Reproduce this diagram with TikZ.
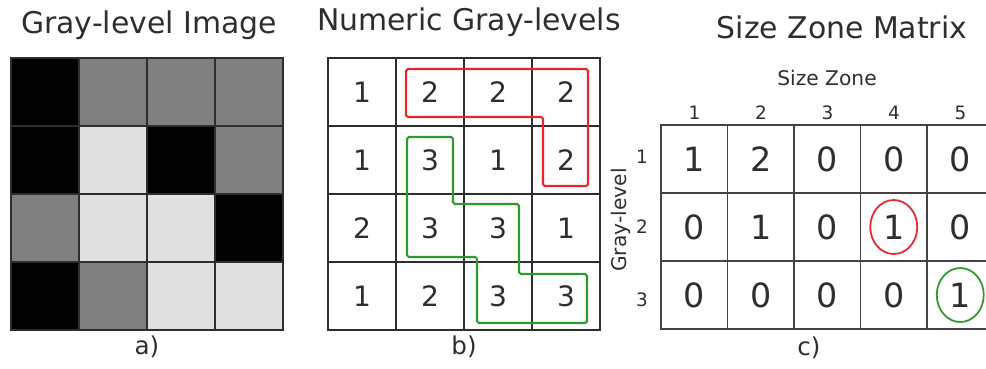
\documentclass[tikz,border=0pt]{standalone}
\usepackage{fontspec}
\setmainfont{DejaVu Sans}
\usepackage{xcolor}
\usetikzlibrary{shapes.geometric}

\definecolor{gl1}{HTML}{000000}
\definecolor{gl2}{HTML}{808080}
\definecolor{gl3}{HTML}{E0E0E0}
\definecolor{ink}{HTML}{2E2E2E}
\definecolor{zonered}{HTML}{E8262B}
\definecolor{zonegreen}{HTML}{2E9A2E}

\begin{document}
\begin{tikzpicture}[x=0.2mm,y=-0.2mm,
  ttl/.style={font=\fontsize{17}{19}\selectfont,text=ink},
  lbl/.style={font=\fontsize{14}{16}\selectfont,text=ink},
  pix/.style={draw=ink,line width=1.1pt,minimum size=13.6mm,inner sep=0pt},
  numb/.style={pix,font=\fontsize{16}{18}\selectfont,text=ink},
  szm/.style={draw=ink!90,line width=0.8pt,minimum width=13.3mm,
    minimum height=13.6mm,inner sep=0pt,font=\fontsize{19}{21}\selectfont,text=ink},
  hdr/.style={font=\fontsize{10.5}{12}\selectfont,text=ink},
  zone/.style={line width=1.2pt,rounded corners=1pt},
  hl/.style={ellipse,draw,line width=1pt,minimum width=9.4mm,minimum height=10.8mm}
]
\useasboundingbox (0,0) rectangle (986,368);
\clip (0,0) rectangle (986,368);

%% a) gray-level image
\node[ttl] (ta) at (149,25) {Gray-level Image};
\foreach \v [count=\k from 0] in {1,2,2,2,1,3,1,2,2,3,3,1,1,2,3,3}{
  \pgfmathtruncatemacro\r{\k/4}
  \pgfmathtruncatemacro\c{mod(\k,4)}
  \node[pix,fill=gl\v] (img-\r-\c) at ({45+68*\c},{92+68*\r}) {};
}
\node[lbl] (la) at (147,347) {a)};

%% b) numeric gray-levels
\node[ttl] (tb) at (469,22) {Numeric Gray-levels};
\foreach \v [count=\k from 0] in {1,2,2,2,1,3,1,2,2,3,3,1,1,2,3,3}{
  \pgfmathtruncatemacro\r{\k/4}
  \pgfmathtruncatemacro\c{mod(\k,4)}
  \node[numb] (num-\r-\c) at ({362+68*\c},{92+68*\r}) {\v};
}
\draw[zone,zonered] (406,69) -- (588,69) -- (588,186) -- (543,186)
  -- (543,117) -- (406,117) -- cycle;
\draw[zone,zonegreen] (407,137) -- (453,137) -- (453,204) -- (519,204)
  -- (519,274) -- (587,274) -- (587,323) -- (477,323) -- (477,257)
  -- (407,257) -- cycle;
\node[lbl] (lb) at (464,347) {b)};

%% c) size zone matrix
\node[ttl] (tc) at (842,27) {Size Zone Matrix};
\node[hdr,font=\fontsize{11.5}{13}\selectfont] (sz) at (827,78) {Size Zone};
\node[hdr,font=\fontsize{11.5}{13}\selectfont,rotate=90] (gl) at (621,220) {Gray-level};
\foreach \row [count=\r from 0] in {{1,2,0,0,0},{0,1,0,1,0},{0,0,0,0,1}}{
  \foreach \v [count=\c from 0] in \row{
    \node[szm] (m-\r-\c) at ({694.25+66.5*\c},{159+68*\r}) {\v};
  }
}
\foreach \c in {1,...,5}
  \node[hdr] (col-\c) at ({628+66.5*\c},113) {\c};
\foreach \y [count=\r] in {157,227,300}
  \node[hdr] (row-\r) at (642,\y) {\r};
\node[hl,draw=zonered] (hlred) at (m-1-3) {};
\node[hl,draw=zonegreen] (hlgreen) at (m-2-4) {};
\node[lbl] (lc) at (809,348) {c)};
\end{tikzpicture}
\end{document}
